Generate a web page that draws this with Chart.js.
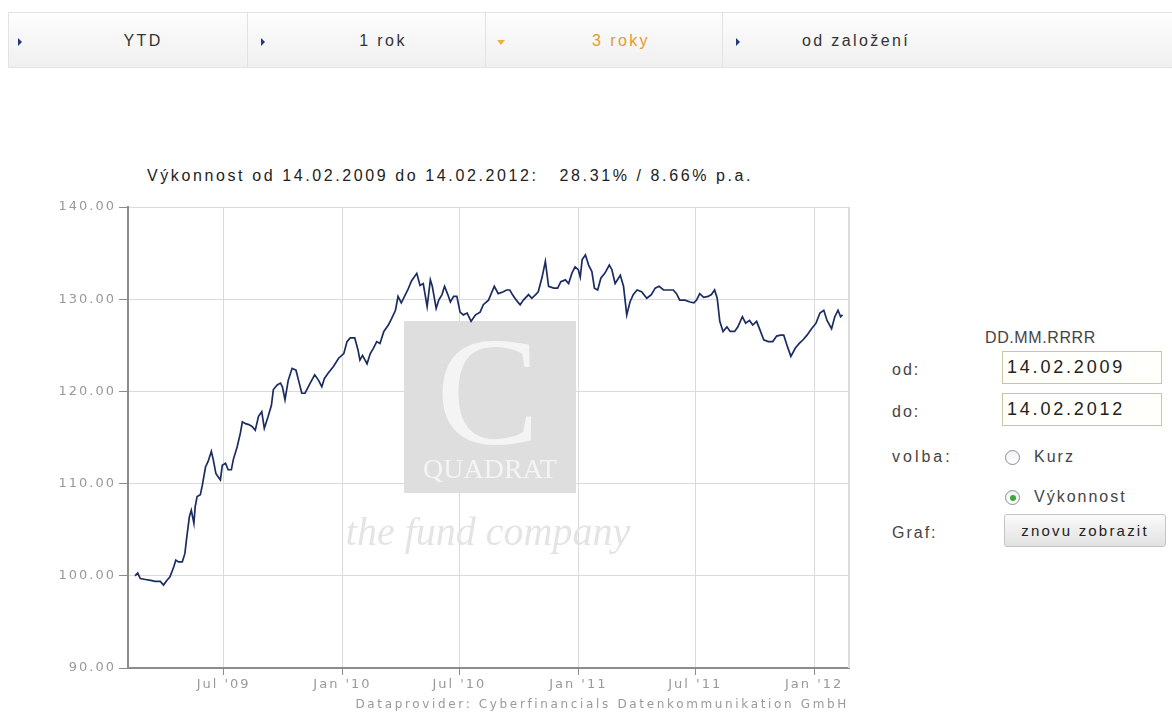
<!DOCTYPE html>
<html lang="cs">
<head>
<meta charset="utf-8">
<title>Výkonnost fondu</title>
<script src="https://cdn.jsdelivr.net/npm/chart.js@4.4.1/dist/chart.umd.min.js"></script>
<style>
    body { margin: 0; width: 1172px; height: 718px; background: #fff; position: relative; overflow: hidden;
           font-family: "Liberation Sans", Arial, sans-serif; color: #333; }
    .tabs { position: absolute; left: 8px; top: 12px; width: 1180px; height: 56px; box-sizing: border-box;
            border: 1px solid #e3e3e3; background: linear-gradient(#fdfdfd, #f0f0f0); }
    .sep { position: absolute; top: 13px; width: 1px; height: 55px; background: #e2e2e2; }
    .tab { position: absolute; top: 32px; font-size: 16px; letter-spacing: 2.4px; color: #333; transform: translateX(-50%); }
    .tab.active { color: #e59a2c; }
    .arrow { position: absolute; width: 0; height: 0; border-top: 4px solid transparent; border-bottom: 4px solid transparent;
             border-left: 4px solid #233a78; }
    .arrow.down { border-left: 4px solid transparent; border-right: 4px solid transparent; border-top: 5px solid #f0b040; border-bottom: 0; }
    .title { position: absolute; left: 147px; top: 167px; font-size: 16px; letter-spacing: 2.6px; color: #222; white-space: pre; }
    #wrap { position: absolute; left: 0; top: 190px; width: 870px; height: 528px; }
    .credit { position: absolute; right: 323px; top: 697px; font-family: "DejaVu Sans", sans-serif; font-size: 12px;
              letter-spacing: 2.65px; color: #9a9a9a; }
    .lbl { position: absolute; left: 892px; font-size: 16px; letter-spacing: 2px; color: #444; }
    .box { position: absolute; left: 1002px; width: 160px; height: 33px; box-sizing: border-box; border: 1px solid #c9c4a2;
           background: #fffffb; font-size: 18px; letter-spacing: 2.8px; line-height: 31px; padding-left: 4px; color: #222; }
    .radio { position: absolute; left: 1005px; width: 15px; height: 15px; border-radius: 50%; border: 1px solid #8a8f98;
             background: linear-gradient(#f0f0f0, #fff); box-sizing: border-box; }
    .radio.on::after { content: ""; position: absolute; left: 3.5px; top: 3.5px; width: 6px; height: 6px; border-radius: 50%; background: #3aa83a; }
    .btn { position: absolute; left: 1004px; top: 514px; width: 162px; height: 33px; box-sizing: border-box; border: 1px solid #c4c4c4;
           border-radius: 3px; background: linear-gradient(#fafafa, #e2e2e2); font-size: 15px; letter-spacing: 2.2px;
           text-align: center; line-height: 31px; color: #222; }
</style>
</head>
<body>
<div class="tabs"></div>
<div class="sep" style="left:247px"></div>
<div class="sep" style="left:485px"></div>
<div class="sep" style="left:722px"></div>
<div class="arrow" style="left:18px; top:38px"></div>
<div class="arrow" style="left:261px; top:38px"></div>
<div class="arrow down" style="left:497px; top:40px"></div>
<div class="arrow" style="left:736px; top:38px"></div>
<div class="tab" style="left:143px">YTD</div>
<div class="tab" style="left:383px">1 rok</div>
<div class="tab active" style="left:621px">3 roky</div>
<div class="tab" style="left:856px">od založení</div>

<div class="title">Výkonnost od 14.02.2009 do 14.02.2012:   28.31% / 8.66% p.a.</div>

<div id="wrap"><canvas id="perf-chart" width="870" height="528"></canvas></div>
<div class="credit">Dataprovider: Cyberfinancials Datenkommunikation GmbH</div>

<div class="lbl" style="left:985px; top:329px; letter-spacing:0.6px">DD.MM.RRRR</div>
<div class="lbl" style="top:361px">od:</div>
<div class="box" style="top:351px">14.02.2009</div>
<div class="lbl" style="top:403px">do:</div>
<div class="box" style="top:393px">14.02.2012</div>
<div class="lbl" style="top:448px; letter-spacing:3px">volba:</div>
<div class="radio" style="top:450px"></div>
<div class="lbl" style="left:1034px; top:448px">Kurz</div>
<div class="radio on" style="top:490px"></div>
<div class="lbl" style="left:1034px; top:488px">Výkonnost</div>
<div class="lbl" style="top:524px">Graf:</div>
<div class="btn">znovu zobrazit</div>

<script>
// Index výkonnosti (100 = 14.02.2009), dny od počátku období
const START = '2009-02-14';
const days = [
    0, 4, 8, 16, 24, 31, 39, 44, 49, 54,
    60, 63, 67, 73, 77, 80, 84, 87, 91, 93,
    96, 101, 104, 109, 113, 118, 121, 125, 129, 132,
    135, 140, 144, 149, 152, 158, 163, 166, 171, 176,
    181, 186, 191, 196, 200, 206, 211, 214, 220, 225,
    228, 232, 237, 243, 249, 253, 258, 263, 271, 278,
    284, 289, 293, 299, 307, 315, 323, 328, 333, 340,
    345, 348, 352, 359, 364, 369, 374, 379, 385, 392,
    397, 403, 407, 412, 417, 422, 428, 436, 441, 446,
    452, 457, 460, 466, 470, 475, 479, 484, 488, 493,
    498, 503, 508, 514, 520, 527, 534, 539, 547, 556,
    562, 570, 575, 580, 584, 590, 596, 601, 609, 614,
    620, 624, 630, 635, 640, 648, 654, 659, 666, 671,
    676, 681, 686, 689, 692, 697, 702, 707, 711, 716,
    721, 727, 734, 738, 743, 751, 756, 761, 766, 771,
    777, 784, 792, 799, 805, 811, 818, 825, 833, 838,
    843, 851, 859, 865, 869, 874, 880, 887, 892, 897,
    901, 905, 910, 916, 921, 928, 933, 940, 945, 951,
    956, 962, 967, 973, 980, 987, 993, 999, 1004, 1010,
    1015, 1022, 1028, 1034, 1040, 1047, 1054, 1060, 1066, 1071,
    1078, 1083, 1088, 1092, 1095
];
const values = [
    100.0, 100.3, 99.7, 99.6, 99.5, 99.4, 99.4, 99.0, 99.5, 99.9,
    101.0, 101.7, 101.5, 101.5, 102.4, 104.2, 106.4, 107.1, 105.7, 107.5,
    108.6, 108.8, 109.8, 111.8, 112.4, 113.5, 112.6, 111.1, 110.7, 110.4,
    112.0, 112.2, 111.5, 111.5, 112.6, 114.0, 115.5, 116.7, 116.5, 116.4,
    116.2, 115.8, 117.3, 117.8, 116.0, 117.3, 118.5, 120.2, 120.7, 120.9,
    120.5, 119.1, 121.2, 122.5, 122.3, 121.2, 119.8, 119.8, 120.9, 121.8,
    121.2, 120.5, 121.4, 122.0, 122.7, 123.6, 124.1, 125.4, 125.8, 125.8,
    124.5, 123.4, 123.9, 123.0, 124.1, 124.7, 125.4, 125.2, 126.5, 127.2,
    127.9, 128.8, 130.3, 129.6, 130.3, 131.0, 132.0, 132.8, 131.5, 131.7,
    129.2, 132.1, 131.4, 129.0, 129.9, 130.5, 131.4, 130.5, 129.7, 130.3,
    130.3, 128.6, 128.3, 128.5, 127.6, 128.3, 128.6, 129.4, 129.9, 131.4,
    130.6, 130.8, 131.0, 131.0, 130.5, 129.9, 129.4, 129.9, 130.5, 130.1,
    130.5, 130.8, 132.4, 134.1, 131.4, 131.2, 131.2, 131.9, 132.1, 131.7,
    132.8, 133.5, 133.2, 132.4, 134.3, 134.8, 133.7, 133.0, 131.2, 131.0,
    132.3, 132.8, 133.7, 133.2, 131.7, 132.6, 131.4, 128.3, 129.7, 130.5,
    131.0, 130.8, 130.1, 130.5, 131.2, 131.4, 131.0, 131.0, 131.0, 130.6,
    129.9, 129.9, 129.7, 129.6, 129.9, 130.6, 130.2, 130.3, 130.5, 131.0,
    130.1, 127.6, 126.5, 127.0, 126.5, 126.5, 127.0, 128.1, 127.4, 127.7,
    127.2, 127.6, 126.7, 125.6, 125.4, 125.4, 126.0, 126.1, 126.1, 124.8,
    123.8, 124.7, 125.2, 125.6, 126.1, 126.8, 127.4, 128.5, 128.8, 127.7,
    126.8, 128.1, 128.8, 128.1, 128.31
];

// osa x: rozsah a popisky
const AXIS_FROM = '2009-02-03';
const AXIS_TO = '2012-02-24';
const tickDates = ['2009-07-01', '2010-01-01', '2010-07-01', '2011-01-01', '2011-07-01', '2012-01-01'];
const tickLabels = ["Jul '09", "Jan '10", "Jul '10", "Jan '11", "Jul '11", "Jan '12"];
const yMin = 90;
const yMax = 140;
const yStep = 10;

function dayOf(iso) {
    return Math.round((Date.parse(iso) - Date.parse(START)) / 86400000);
}

// logo na pozadí grafu
const watermark = {
    id: 'watermark',
    beforeDatasetsDraw(chart) {
        const { ctx, chartArea: a } = chart;
        ctx.save();
        ctx.letterSpacing = '0px';
        ctx.fillStyle = '#dedede';
        ctx.fillRect(a.left + 276, a.top + 114, 172, 172);
        ctx.fillStyle = '#f4f4f4';
        ctx.textAlign = 'center';
        ctx.textBaseline = 'alphabetic';
        ctx.font = '155px "Liberation Serif", serif';
        ctx.fillText('C', a.left + 360, a.top + 236);
        ctx.font = '28px "Liberation Serif", serif';
        ctx.fillText('QUADRAT', a.left + 362, a.top + 271);
        ctx.fillStyle = '#e4e4e4';
        ctx.font = 'italic 40px "Liberation Serif", serif';
        ctx.fillText('the fund company', a.left + 360, a.top + 338);
        ctx.restore();
    },
    afterDraw(chart) {
        const { ctx, chartArea: a } = chart;
        ctx.save();
        ctx.strokeStyle = '#dcdcdc';
        ctx.lineWidth = 2;
        ctx.beginPath();
        ctx.moveTo(a.right, a.top);
        ctx.lineTo(a.right, a.bottom);
        ctx.stroke();
        ctx.restore();
    }
};

// popisky os jsou prostrkané
const spacing = {
    id: 'spacing',
    beforeDraw(chart) { chart.ctx.letterSpacing = '2px'; }
};

const tickFont = { family: '"DejaVu Sans", sans-serif', size: 13 };

new Chart(document.getElementById('perf-chart'), {
    type: 'line',
    data: {
        datasets: [{
            data: days.map((d, i) => ({ x: d, y: values[i] })),
            borderColor: '#1b2c62',
            borderWidth: 1.7,
            pointRadius: 0,
            tension: 0
        }]
    },
    options: {
        responsive: false,
        animation: false,
        layout: { padding: { top: 17, right: 21, bottom: 10, left: 0 } },
        plugins: { legend: { display: false }, tooltip: { enabled: false } },
        scales: {
            x: {
                type: 'linear',
                min: dayOf(AXIS_FROM),
                max: dayOf(AXIS_TO),
                afterBuildTicks: axis => { axis.ticks = tickDates.map(d => ({ value: dayOf(d) })); },
                afterFit: axis => { axis.height = 40; },
                grid: { color: '#dadada', lineWidth: 1, tickLength: 7, tickColor: '#8c8c8c' },
                border: { color: '#8c8c8c', width: 2 },
                ticks: {
                    autoSkip: false, maxRotation: 0, padding: 2,
                    color: '#999999', font: tickFont,
                    callback: (v, i) => tickLabels[i]
                }
            },
            y: {
                min: yMin,
                max: yMax,
                afterFit: axis => { axis.width = 128; },
                grid: { color: '#dadada', lineWidth: 1, tickLength: 9, tickColor: '#8c8c8c' },
                border: { color: '#8c8c8c', width: 2 },
                ticks: {
                    stepSize: yStep, padding: 3,
                    color: '#999999', font: tickFont,
                    callback: v => v.toFixed(2)
                }
            }
        }
    },
    plugins: [spacing, watermark]
});
</script>
</body>
</html>
